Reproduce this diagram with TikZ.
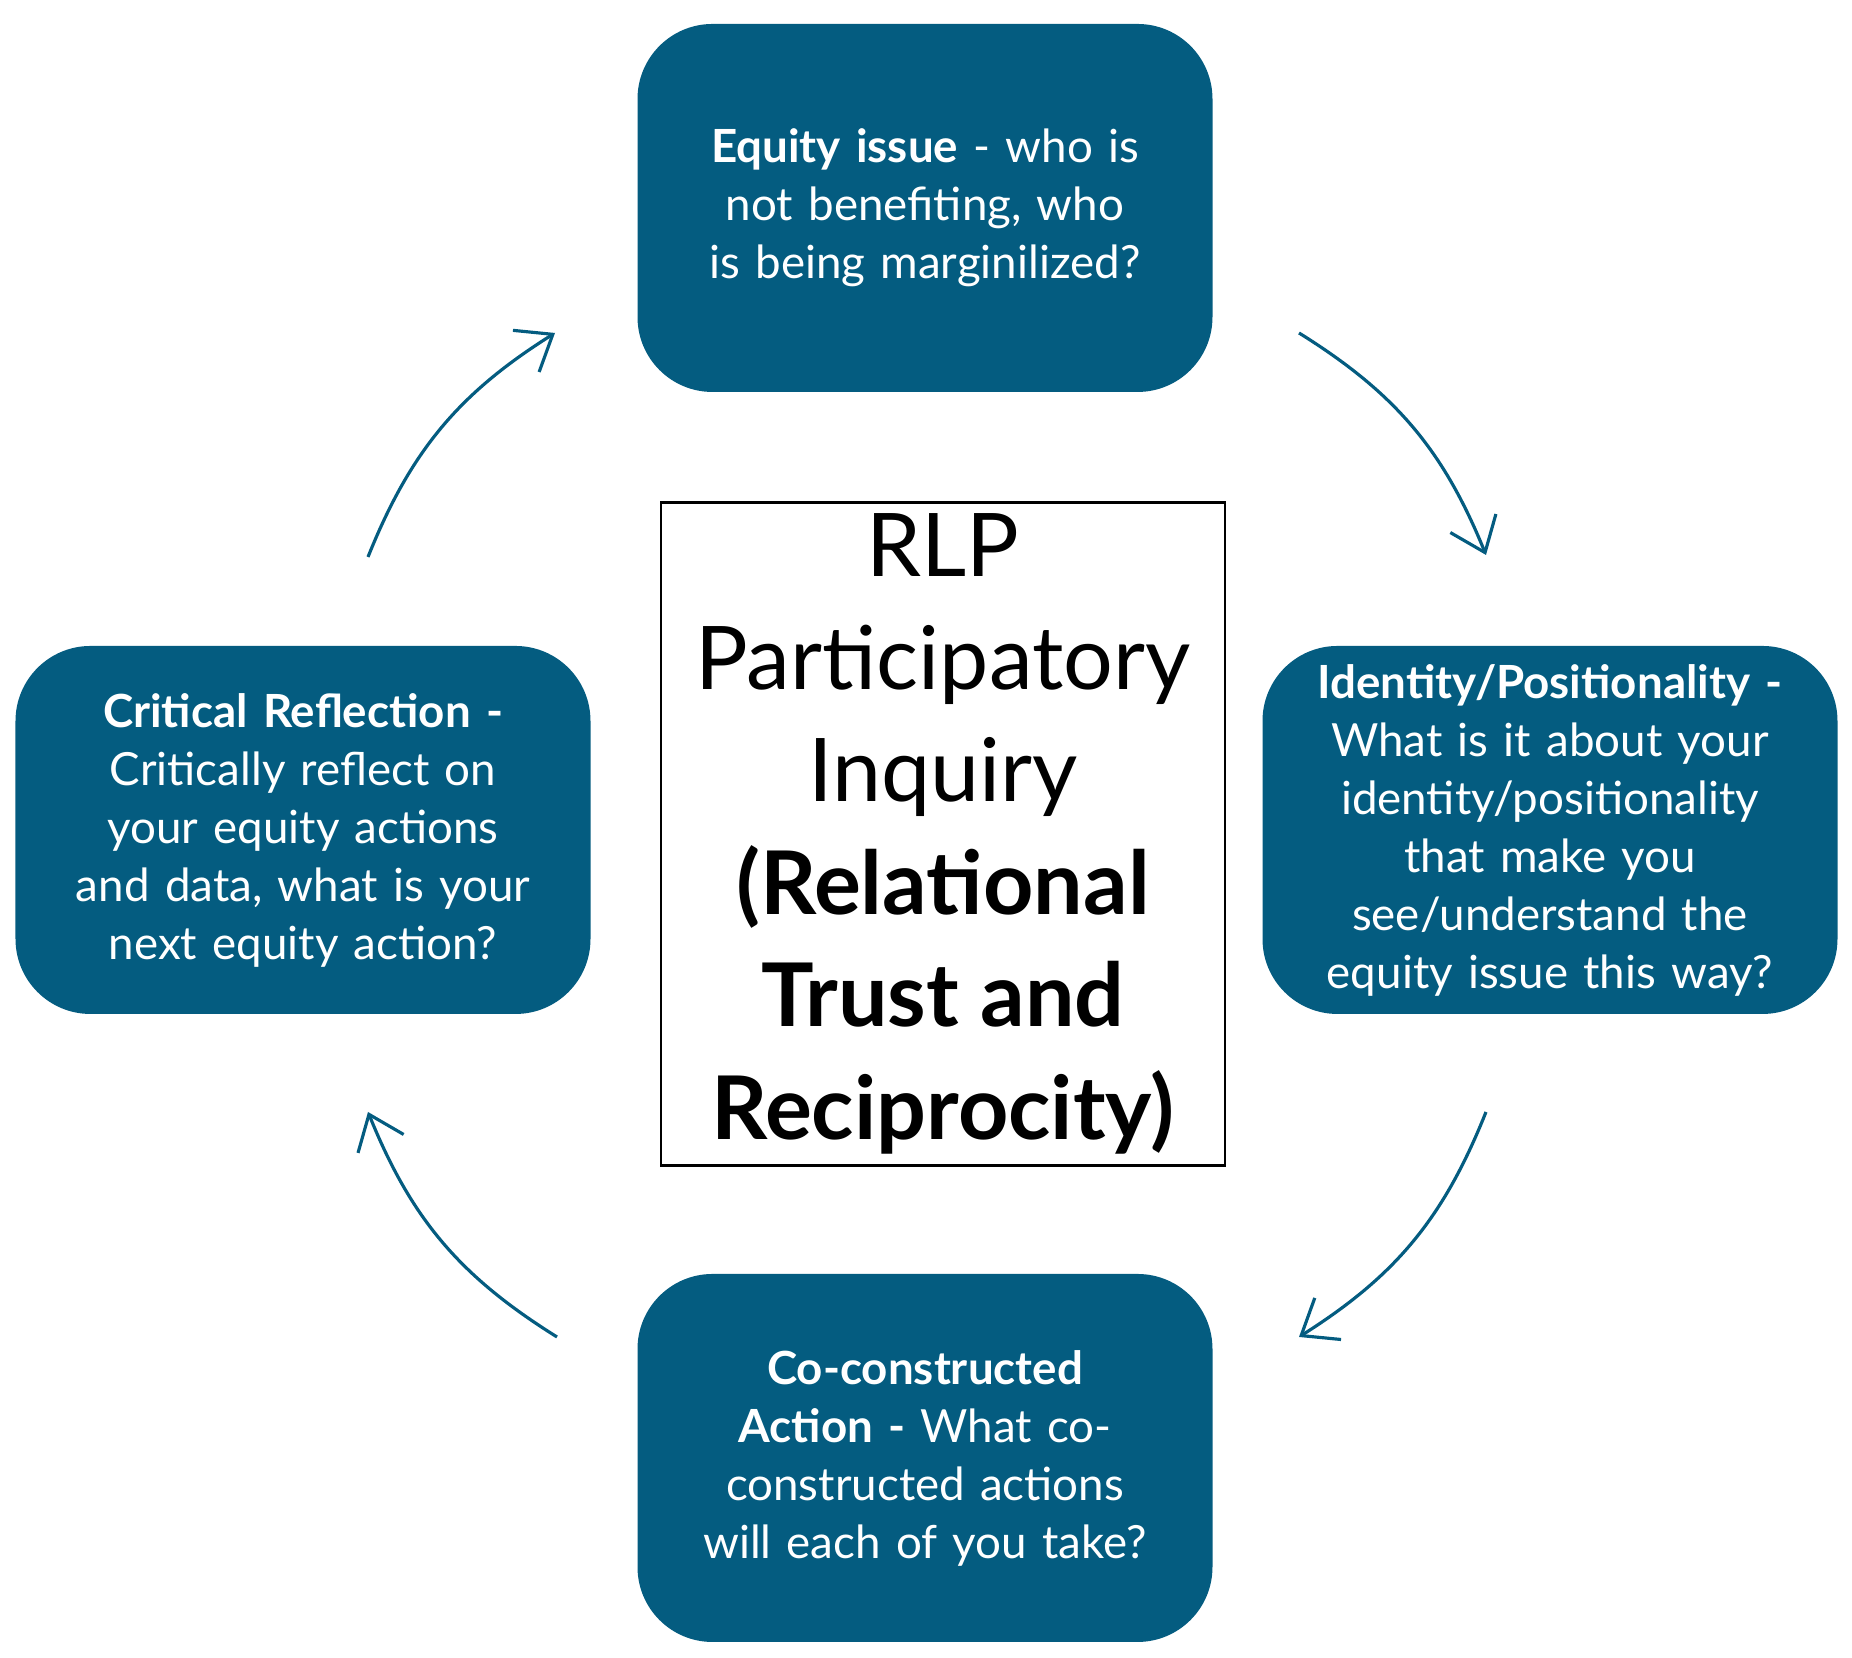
\documentclass[tikz,border=0pt]{standalone}
\usepackage{fontspec}
\setmainfont{Lato}
\usetikzlibrary{arrows.meta, positioning}
\definecolor{stageblue}{HTML}{045C80}

\begin{document}
\begin{tikzpicture}[scale=1, auto]
    % Define styles
    \tikzstyle{stage box}=[rectangle, rounded corners=0.75cm, fill=stageblue, text=white, minimum width=5.75cm, minimum height=3.68cm, text width=4.9cm, align=center, font=\fontsize{13}{16.5}\selectfont, inner sep=2pt]
    \tikzstyle{core}=[rectangle, draw=black, thick, minimum width=5.64cm, minimum height=6.15cm, align=center, font=\fontsize{25}{32}\selectfont]
    \tikzstyle{cycle} = [draw=stageblue, line width=0.9pt, -{Straight Barb[length=9pt, width=14pt]}]

    \useasboundingbox (0,0) rectangle (18.52,16.58);

    % Draw the boxes
    \node[stage box] (issue) at (9.25,14.50) {\textbf{Equity issue} - who is not benefiting, who is being marginilized?};
    \node[stage box] (identity) at (15.50,8.28) {\textbf{Identity/Positionality -} What is it about your identity/positionality that make you see/understand the equity issue this way?};
    \node[stage box] (action) at (9.25,2.00) {\textbf{Co-constructed Action -} What co-constructed actions will each of you take?};
    \node[stage box] (reflect) at (3.03,8.28) {\textbf{Critical Reflection -} Critically reflect on your equity actions and data, what is your next equity action?};
    \node[core] (rlp) at (9.43,8.24) {RLP\\Participatory\\Inquiry\\\textbf{(Relational}\\\textbf{Trust and}\\\textbf{Reciprocity)}};

    % Arrow ends
    \foreach \name/\x/\y in {a1/12.99/13.25, a2/14.86/11.03, b1/14.86/5.46, b2/12.99/3.21, c1/5.57/3.21, c2/3.68/5.46, d1/3.68/11.01, d2/5.55/13.25}
        \coordinate (\name) at (\x,\y);

    % Draw the cycle
    \draw[cycle] (a1) to[bend left=18] (a2);
    \draw[cycle] (b1) to[bend left=18] (b2);
    \draw[cycle] (c1) to[bend left=18] (c2);
    \draw[cycle] (d1) to[bend left=18] (d2);

\end{tikzpicture}
\end{document}
